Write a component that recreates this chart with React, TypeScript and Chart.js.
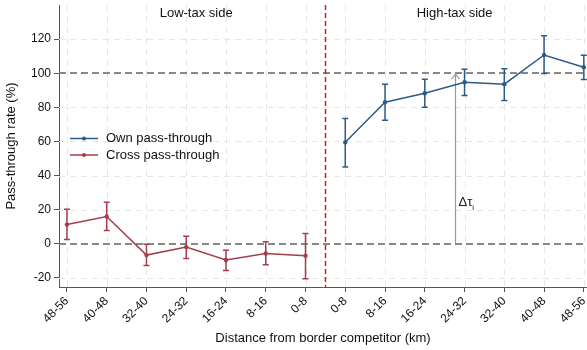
import { useEffect, useRef } from 'react';
import { Chart, registerables } from 'chart.js';

Chart.register(...registerables);

const categories = ['48-56', '40-48', '32-40', '24-32', '16-24', '8-16', '0-8', '0-8', '8-16', '16-24', '24-32', '32-40', '40-48', '48-56'];
const crossValues = [11.3, 16, -6.6, -1.9, -9.5, -5.7, -7];
const crossUpper = [20.3, 24.4, -0.2, 4.5, -3.7, 1.2, 6];
const crossLower = [2.5, 7.8, -12.7, -8.6, -15.6, -12.3, -20.5];
const ownValues = [59.5, 83, 88.3, 94.7, 93.6, 110.7, 103.5];
const ownUpper = [73.5, 93.6, 96.5, 102.3, 102.7, 122, 110.5];
const ownLower = [45, 72.5, 80, 87, 84, 99.8, 96.3];
const yTicks = [-20, 0, 20, 40, 60, 80, 100, 120];
const referenceLines = [0, 100];
const borderPosition = 6.5;
const deltaPosition = 9.75;
const deltaLabelValue = 24;
const sideLabels = [
  { text: 'Low-tax side', x: 3.25 },
  { text: 'High-tax side', x: 9.75 },
];
const sideLabelValue = 135;

const FONT = '"Liberation Sans", Arial, Helvetica, sans-serif';
const OWN_COLOR = '#2d5b88';
const CROSS_COLOR = '#a33e4b';

const crossIdx = crossValues.map((_, i) => i);
const ownIdx = ownValues.map((_, i) => i + crossValues.length);

const errorBars = [
  { color: CROSS_COLOR, xs: crossIdx, lo: crossLower, hi: crossUpper },
  { color: OWN_COLOR, xs: ownIdx, lo: ownLower, hi: ownUpper },
];

const decorPlugin = {
  id: 'decor',
  beforeDatasetsDraw(chart: any) {
    const { ctx, chartArea: a, scales } = chart;
    const x = scales.x;
    const y = scales.y;
    ctx.save();
    ctx.beginPath();
    ctx.rect(a.left, a.top, a.right - a.left, a.bottom - a.top);
    ctx.clip();
    ctx.strokeStyle = '#e6e6e6';
    ctx.lineWidth = 1;
    ctx.setLineDash([6, 5]);
    categories.forEach((_, i) => {
      const px = Math.round(x.getPixelForValue(i)) + 0.5;
      ctx.beginPath();
      ctx.moveTo(px, a.top);
      ctx.lineTo(px, a.bottom);
      ctx.stroke();
    });
    yTicks.forEach((v) => {
      const py = Math.round(y.getPixelForValue(v)) + 0.5;
      ctx.beginPath();
      ctx.moveTo(a.left, py);
      ctx.lineTo(a.right, py);
      ctx.stroke();
    });
    ctx.strokeStyle = '#666666';
    ctx.lineWidth = 1.5;
    ctx.setLineDash([7, 4]);
    referenceLines.forEach((v) => {
      const py = Math.round(y.getPixelForValue(v));
      ctx.beginPath();
      ctx.moveTo(a.left, py);
      ctx.lineTo(a.right, py);
      ctx.stroke();
    });
    ctx.strokeStyle = '#ff0000';
    ctx.lineWidth = 1.4;
    ctx.setLineDash([5, 3]);
    const bx = Math.round(x.getPixelForValue(borderPosition)) + 0.5;
    ctx.beginPath();
    ctx.moveTo(bx, a.top);
    ctx.lineTo(bx, a.bottom);
    ctx.stroke();
    ctx.setLineDash([]);
    ctx.strokeStyle = '#999999';
    ctx.lineWidth = 1.2;
    const dx = Math.round(x.getPixelForValue(deltaPosition)) + 0.5;
    const y0 = y.getPixelForValue(referenceLines[0]);
    const y1 = y.getPixelForValue(referenceLines[1]) + 1;
    ctx.beginPath();
    ctx.moveTo(dx, y0);
    ctx.lineTo(dx, y1);
    ctx.stroke();
    ctx.beginPath();
    ctx.moveTo(dx - 4, y1 + 5);
    ctx.lineTo(dx, y1);
    ctx.lineTo(dx + 4, y1 + 5);
    ctx.stroke();
    ctx.fillStyle = '#222';
    ctx.textBaseline = 'middle';
    ctx.textAlign = 'left';
    ctx.font = `13px ${FONT}`;
    const ly = y.getPixelForValue(deltaLabelValue);
    const txt = 'Δτ';
    ctx.fillText(txt, dx + 3, ly);
    const w = ctx.measureText(txt).width;
    ctx.font = `8px ${FONT}`;
    ctx.fillText('i', dx + 3 + w, ly + 5);
    errorBars.forEach((eb) => {
      ctx.strokeStyle = eb.color;
      ctx.lineWidth = 1.5;
      eb.xs.forEach((xi, k) => {
        const px = x.getPixelForValue(xi);
        const pl = y.getPixelForValue(eb.lo[k]);
        const ph = y.getPixelForValue(eb.hi[k]);
        ctx.beginPath();
        ctx.moveTo(px, pl);
        ctx.lineTo(px, ph);
        ctx.moveTo(px - 3, pl);
        ctx.lineTo(px + 3, pl);
        ctx.moveTo(px - 3, ph);
        ctx.lineTo(px + 3, ph);
        ctx.stroke();
      });
    });
    ctx.restore();
  },
  afterDraw(chart: any) {
    const { ctx, chartArea: a, scales } = chart;
    const x = scales.x;
    const y = scales.y;
    ctx.save();
    ctx.fillStyle = '#111';
    ctx.font = `13px ${FONT}`;
    ctx.textAlign = 'center';
    ctx.textBaseline = 'middle';
    sideLabels.forEach((s) => {
      ctx.fillText(s.text, x.getPixelForValue(s.x), y.getPixelForValue(sideLabelValue));
    });
    const items = [
      { label: 'Own pass-through', color: OWN_COLOR },
      { label: 'Cross pass-through', color: CROSS_COLOR },
    ];
    ctx.textAlign = 'left';
    ctx.font = `13px ${FONT}`;
    items.forEach((it, i) => {
      const ry = a.top + 133.5 + i * 16.5;
      const lx = a.left + 11;
      ctx.strokeStyle = it.color;
      ctx.lineWidth = 1.5;
      ctx.beginPath();
      ctx.moveTo(lx, ry);
      ctx.lineTo(lx + 28, ry);
      ctx.stroke();
      ctx.fillStyle = it.color;
      ctx.beginPath();
      ctx.arc(lx + 14, ry, 2, 0, Math.PI * 2);
      ctx.fill();
      ctx.fillStyle = '#111';
      ctx.fillText(it.label, lx + 36, ry);
    });
    ctx.restore();
  },
};

export default function App() {
  const ref = useRef<HTMLCanvasElement>(null);
  useEffect(() => {
    document.body.style.margin = '0';
    if (!ref.current) return;
    const chart = new Chart(ref.current, {
      type: 'line',
      data: {
        datasets: [
          {
            label: 'Own pass-through',
            data: ownValues.map((v, i) => ({ x: ownIdx[i], y: v })),
            borderColor: OWN_COLOR,
            backgroundColor: OWN_COLOR,
            borderWidth: 1.5,
            pointRadius: 2.2,
            pointBorderWidth: 0,
            tension: 0,
            clip: false,
          },
          {
            label: 'Cross pass-through',
            data: crossValues.map((v, i) => ({ x: crossIdx[i], y: v })),
            borderColor: CROSS_COLOR,
            backgroundColor: CROSS_COLOR,
            borderWidth: 1.5,
            pointRadius: 2.2,
            pointBorderWidth: 0,
            tension: 0,
            clip: false,
          },
        ],
      },
      options: {
        responsive: false,
        animation: false,
        layout: { autoPadding: false, padding: { top: 5, right: 0, left: 0, bottom: 0 } },
        plugins: { legend: { display: false }, tooltip: { enabled: false } },
        scales: {
          x: {
            type: 'linear',
            min: -0.2,
            max: 13.08,
            afterBuildTicks: (s: any) => {
              s.ticks = categories.map((_, i) => ({ value: i }));
            },
            afterFit: (s: any) => {
              s.height = 63;
              s.paddingLeft = 0;
              s.paddingRight = 0;
            },
            ticks: {
              autoSkip: false,
              minRotation: 45,
              maxRotation: 45,
              color: '#111',
              padding: 2,
              font: { family: FONT, size: 12 },
              callback: (_v: any, i: number) => categories[i],
            },
            grid: { drawOnChartArea: false, drawTicks: true, tickLength: 5, color: '#555', tickWidth: 1 },
            border: { color: '#555', width: 1 },
            title: {
              display: true,
              text: 'Distance from border competitor (km)',
              color: '#111',
              font: { family: FONT, size: 13 },
            },
          },
          y: {
            type: 'linear',
            min: -25.3,
            max: 140,
            afterBuildTicks: (s: any) => {
              s.ticks = yTicks.map((v) => ({ value: v }));
            },
            afterFit: (s: any) => {
              s.width = 59;
              s.paddingTop = 0;
              s.paddingBottom = 0;
            },
            ticks: {
              color: '#111',
              padding: 3,
              font: { family: FONT, size: 12 },
            },
            grid: { drawOnChartArea: false, drawTicks: true, tickLength: 5, color: '#555', tickWidth: 1 },
            border: { color: '#555', width: 1 },
            title: {
              display: true,
              text: 'Pass-through rate (%)',
              color: '#111',
              font: { family: FONT, size: 13 },
            },
          },
        },
      },
      plugins: [decorPlugin],
    });
    return () => chart.destroy();
  }, []);
  return (
    <div style={{ width: 587, height: 350 }}>
      <canvas ref={ref} width={587} height={350} />
    </div>
  );
}
